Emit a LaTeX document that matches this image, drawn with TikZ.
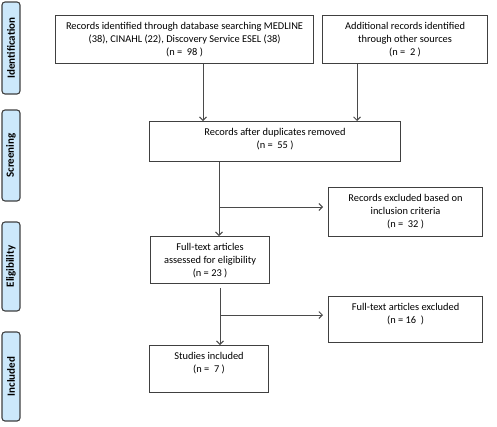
\documentclass[tikz,border=0pt]{standalone}
\usepackage{fontspec}
\setmainfont{Carlito}
\usetikzlibrary{arrows.meta}
\definecolor{barfill}{HTML}{CCE8FB}
\definecolor{boxline}{HTML}{404040}
\definecolor{arrline}{HTML}{4A4A4A}
\begin{document}
\begin{tikzpicture}[x=1pt,y=-1pt,
  box/.style={draw=boxline, line width=1.1pt, rectangle, inner sep=0pt, anchor=north west},
  txt/.style={anchor=north, align=center, font=\fontsize{10.4}{13}\selectfont, inner sep=1pt},
  bar/.style={draw=boxline, fill=barfill, line width=1.1pt, rounded corners=3pt},
  barlabel/.style={rotate=90, font=\fontsize{11}{13}\selectfont\bfseries, inner sep=0pt},
  arr/.style={draw=arrline, line width=0.9pt, -{Straight Barb[length=3.5pt,width=7pt]}},
  ln/.style={draw=arrline, line width=0.9pt}]
\useasboundingbox (0,0) rectangle (497,426);
% phase bars
\draw[bar] (2,2) rectangle (20,94);
\node[barlabel] (lid) at (11,48) {Identification};
\draw[bar] (2,110) rectangle (20,201);
\node[barlabel] (lsc) at (11,155.5) {Screening};
\draw[bar] (2,222) rectangle (20,311);
\node[barlabel] (lel) at (11,266.5) {Eligibility};
\draw[bar] (2,332) rectangle (20,421);
\node[barlabel] (lin) at (11,376.5) {Included};
% boxes
\node[box, minimum width=258pt, minimum height=48pt] (b1) at (55,15) {};
\node[txt] (t1) at ([yshift=-6pt]b1.north) {Records identified through database searching MEDLINE\\(38), CINAHL (22), Discovery Service ESEL (38)\\(n =\ \ 98 )};
\node[box, minimum width=165pt, minimum height=48pt] (b2) at (322,15) {};
\node[txt] (t2) at ([yshift=-6pt]b2.north) {Additional records identified\\through other sources\\(n =\ \ 2 )};
\node[box, minimum width=251pt, minimum height=40pt] (b3) at (149,121) {};
\node[txt] (t3) at ([yshift=-6pt]b3.north) {Records after duplicates removed\\(n =\ \ 55 )};
\node[box, minimum width=154pt, minimum height=49pt] (b4) at (328,187) {};
\node[txt] (t4) at ([yshift=-6pt]b4.north) {Records excluded based on\\inclusion criteria\\(n =\ \ 32 )};
\node[box, minimum width=119pt, minimum height=47pt] (b5) at (150,236) {};
\node[txt] (t5) at ([yshift=-6pt]b5.north) {Full-text articles\\assessed for eligibility\\(n = 23 )};
\node[box, minimum width=154pt, minimum height=46pt] (b6) at (328,296) {};
\node[txt] (t6) at ([yshift=-6pt]b6.north) {Full-text articles excluded\\(n = 16\ \ )};
\node[box, minimum width=119pt, minimum height=47pt] (b7) at (149,345) {};
\node[txt] (t7) at ([yshift=-6pt]b7.north) {Studies included\\(n =\ \ 7 )};
% connector columns
\coordinate (c1) at (203,0);
\coordinate (c2) at (357,0);
\coordinate (c3) at (219,0);
\coordinate (c4) at (220,0);
\coordinate (j1) at (219,207);
\coordinate (j2) at (220,315);
% connectors
\draw[arr] (c1 |- b1.south) -- (c1 |- b3.north);
\draw[arr] (c2 |- b2.south) -- (c2 |- b3.north);
\draw[arr] (c3 |- b3.south) -- (c3 |- b5.north);
\draw[arr, shorten >=5pt] (j1) -- (j1 -| b4.west);
\draw[arr, shorten <=4pt] (c4 |- b5.south) -- (c4 |- b7.north);
\draw[arr, shorten >=5pt] (j2) -- (j2 -| b6.west);
\end{tikzpicture}
\end{document}
